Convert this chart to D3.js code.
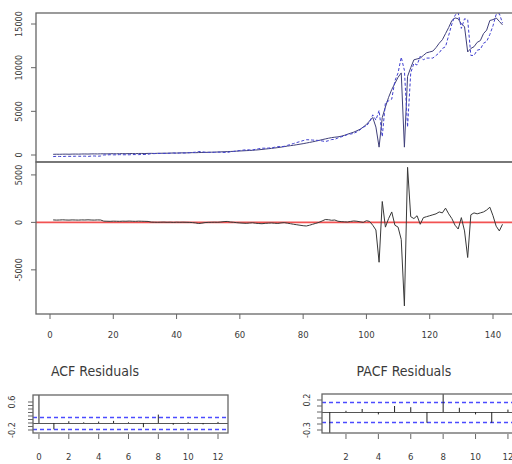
<!DOCTYPE html>
<html>
<head>
<meta charset="utf-8">
<script src="https://cdn.jsdelivr.net/npm/d3@7"></script>
<style>
  body { margin: 0; background: #fff; }
  text { font-family: "Liberation Sans Narrow", "DejaVu Sans Condensed", sans-serif; fill: #3a3a3a; }
</style>
</head>
<body>
<svg id="chart" width="512" height="464"></svg>
<script>
// observed series (t = 1..143)
const actual = [
  80, 90, 85, 95, 100, 90, 105, 110, 100, 115,
  120, 110, 125, 130, 120, 135, 140, 130, 145, 150,
  140, 155, 160, 150, 165, 170, 160, 175, 180, 170,
  185, 190, 180, 195, 200, 210, 205, 220, 230, 225,
  240, 250, 245, 260, 270, 265, 280, 290, 300, 310,
  320, 330, 345, 360, 375, 390, 405, 420, 440, 460,
  480, 500, 520, 540, 570, 600, 640, 680, 720, 760,
  800, 850, 900, 960, 1020, 1070, 1120, 1180, 1240, 1300,
  1370, 1440, 1510, 1590, 1670, 1760, 1840, 1920, 1990, 2040,
  2080, 2150, 2250, 2380, 2500, 2620, 2780, 2950, 3200, 3500,
  3900, 4300, 3200, 900, 4300, 5500, 6600, 7500, 8200, 8900,
  9400, 900, 9000, 10000, 10900, 11000, 11100, 11400, 11700, 11800,
  11900, 12300, 12800, 13200, 13900, 14600, 15400, 15700, 15600, 15000,
  14700, 11800, 12200, 12400, 12900, 13100, 13900, 14300, 15400, 15500,
  15700, 15300, 14900
];

// model residuals (t = 1..143)
const residual = [
  260, 240, 250, 270, 250, 240, 260, 250, 240, 260,
  250, 270, 250, 240, 260, 250, 130, 120, 110, 130,
  120, 110, 130, 120, 140, 120, 110, 130, 120, 110,
  100, 30, 20, 10, 20, 30, 10, 20, 0, 20,
  10, 20, 10, 0, -20, -60, -120, -80, -20, 0,
  10, 20, 10, 40, 80, 100, 40, 10, -30, -60,
  -80, -100, -70, -40, -90, -120, -140, -100, -80, -60,
  -90, -110, -60, -30, -80, -140, -200, -250, -300, -350,
  -380, -300, -200, -100, 0, 150, 300, 280, 220, 250,
  120, 80, 60, 40, 100, 150, 120, 60, 0, 180,
  100, -300, -800, -4200, 2200, -500, 400, 1100, -300, -500,
  -1800, -8800, 5800, 600, 400, 700, -200, 500, 600, 700,
  800, 900, 1100, 1000, 1500, 900, 400, -300, -700, 500,
  -900, -3700, 800, 1000, 900, 1000, 1100, 1300, 1600, 700,
  -400, -900, -200
];

const acfVals = [1, -0.18, 0.05, 0.02, 0.04, 0.06, 0.02, -0.12, 0.24, -0.05, 0.02, -0.04, 0.03]; // lags 0..12
const pacfVals = [-0.36, 0.02, 0.05, -0.04, 0.1, 0.08, -0.18, 0.3, 0.07, -0.04, -0.18, 0.04]; // lags 1..12
const ci = 0.16;

const timeTicks = [0, 20, 40, 60, 80, 100, 120, 140];
const topTicks = [0, 5000, 10000, 15000];
const resTicks = [-5000, 0, 5000];
const acfLagTicks = [0, 2, 4, 6, 8, 10, 12];
const pacfLagTicks = [2, 4, 6, 8, 10, 12];
const acfYTicks = [-0.2, -0.1, 0, 0.1, 0.2, 0.3, 0.4, 0.5, 0.6];
const acfYLabels = [-0.2, 0.6];
const pacfYTicks = [-0.3, -0.2, -0.1, 0, 0.1, 0.2];
const pacfYLabels = [0.2, -0.3];

const fitted = actual.map((v, i) => v - residual[i]);

const svg = d3.select("#chart");
const frame = "#666";
const ciColor = "#4b4bff";

// scales
const x = d3.scaleLinear().domain([0, 140]).range([50, 493]);
const yTop = d3.scaleLinear().domain([-800, 16260]).range([162, 13]);
const yRes = d3.scaleLinear().domain([-9650, 6360]).range([314, 162]);
const xAcf = d3.scaleLinear().domain([-0.4, 12.67]).range([33, 228]);
const yAcf = d3.scaleLinear().domain([-0.286, 0.8]).range([433, 395]);
const xPacf = d3.scaleLinear().domain([0.52, 13.3]).range([322, 529]);
const yPacf = d3.scaleLinear().domain([-0.35, 0.3]).range([433, 394]);

function clip(id, x0, y0, x1, y1) {
    svg.append("clipPath").attr("id", id)
        .append("rect").attr("x", x0).attr("y", y0).attr("width", x1 - x0).attr("height", y1 - y0);
    return svg.append("g").attr("clip-path", `url(#${id})`);
}

function box(x0, y0, x1, y1) {
    svg.append("rect")
        .attr("x", x0).attr("y", y0).attr("width", x1 - x0).attr("height", y1 - y0)
        .attr("fill", "none").attr("stroke", frame).attr("stroke-width", 1.3);
}

function yAxisLeft(scale, ticks, labels, xEdge, labelX, fontSize) {
    ticks.forEach(t => {
        svg.append("line")
            .attr("x1", xEdge - 5).attr("x2", xEdge)
            .attr("y1", scale(t)).attr("y2", scale(t))
            .attr("stroke", frame);
    });
    labels.forEach(t => {
        svg.append("text")
            .attr("transform", `translate(${labelX},${scale(t)}) rotate(-90)`)
            .attr("text-anchor", "middle")
            .attr("font-size", fontSize)
            .text(t);
    });
}

function xAxisBottom(scale, ticks, yEdge, labelY, fontSize) {
    ticks.forEach(t => {
        svg.append("line")
            .attr("x1", scale(t)).attr("x2", scale(t))
            .attr("y1", yEdge).attr("y2", yEdge + 5)
            .attr("stroke", frame);
        svg.append("text")
            .attr("x", scale(t)).attr("y", labelY)
            .attr("text-anchor", "middle")
            .attr("font-size", fontSize)
            .text(t);
    });
}

function hline(g, x0, x1, y, color, dashed) {
    const yy = Math.round(y) + 0.5;
    const l = g.append("line")
        .attr("x1", x0).attr("x2", x1).attr("y1", yy).attr("y2", yy)
        .attr("stroke", color);
    if (dashed) l.attr("stroke-dasharray", "4,3").attr("stroke-width", 1.3);
    return l;
}

// ---- top panel: actual vs fitted
const gTop = clip("cTop", 36, 13, 520, 162);
const line = d3.line().x((d, i) => x(i + 1));

gTop.append("path")
    .datum(actual)
    .attr("d", line.y(d => yTop(d)))
    .attr("fill", "none").attr("stroke", "#40407a").attr("stroke-width", 1);

gTop.append("path")
    .datum(fitted)
    .attr("d", line.y(d => yTop(d)))
    .attr("fill", "none").attr("stroke", "#4040d0").attr("stroke-width", 1)
    .attr("stroke-dasharray", "3,2");

box(36, 13, 525, 162);
yAxisLeft(yTop, topTicks, topTicks, 36, 22, 9);

// ---- residual panel
const gRes = clip("cRes", 36, 162, 520, 314);
gRes.append("line")
    .attr("x1", 36).attr("x2", 520)
    .attr("y1", yRes(0)).attr("y2", yRes(0))
    .attr("stroke", "#f25252").attr("stroke-width", 1.8);

gRes.append("path")
    .datum(residual)
    .attr("d", line.y(d => yRes(d)))
    .attr("fill", "none").attr("stroke", "#383838").attr("stroke-width", 1);

box(36, 162, 525, 314);
yAxisLeft(yRes, resTicks, resTicks, 36, 22, 9);
xAxisBottom(x, timeTicks, 314, 338, 9.5);

// ---- ACF panel
const gAcf = clip("cAcf", 33, 395, 228, 433);
hline(gAcf, 33, 228, yAcf(0), "#555", false);
[ci, -ci].forEach(c => hline(gAcf, 33, 228, yAcf(c), ciColor, true));
gAcf.selectAll("line.spike")
    .data(acfVals)
    .join("line")
    .attr("class", "spike")
    .attr("x1", (d, i) => xAcf(i)).attr("x2", (d, i) => xAcf(i))
    .attr("y1", yAcf(0)).attr("y2", d => yAcf(d))
    .attr("stroke", "#222");

box(33, 395, 228, 433);
yAxisLeft(yAcf, acfYTicks, acfYLabels, 33, 15, 9);
xAxisBottom(xAcf, acfLagTicks, 434, 460, 9.5);

svg.append("text")
    .attr("x", 95).attr("y", 376)
    .attr("text-anchor", "middle")
    .attr("font-size", 14)
    .text("ACF Residuals");

// ---- PACF panel
const gPacf = clip("cPacf", 322, 394, 520, 433);
hline(gPacf, 322, 520, yPacf(0), "#555", false);
[ci, -ci].forEach(c => hline(gPacf, 322, 520, yPacf(c), ciColor, true));
gPacf.selectAll("line.spike")
    .data(pacfVals)
    .join("line")
    .attr("class", "spike")
    .attr("x1", (d, i) => xPacf(i + 1)).attr("x2", (d, i) => xPacf(i + 1))
    .attr("y1", yPacf(0)).attr("y2", d => yPacf(d))
    .attr("stroke", "#222");

box(322, 394, 525, 433);
yAxisLeft(yPacf, pacfYTicks, pacfYLabels, 322, 310, 9);
xAxisBottom(xPacf, pacfLagTicks, 434, 460, 9.5);

svg.append("text")
    .attr("x", 404).attr("y", 376)
    .attr("text-anchor", "middle")
    .attr("font-size", 14)
    .text("PACF Residuals");
</script>
</body>
</html>
